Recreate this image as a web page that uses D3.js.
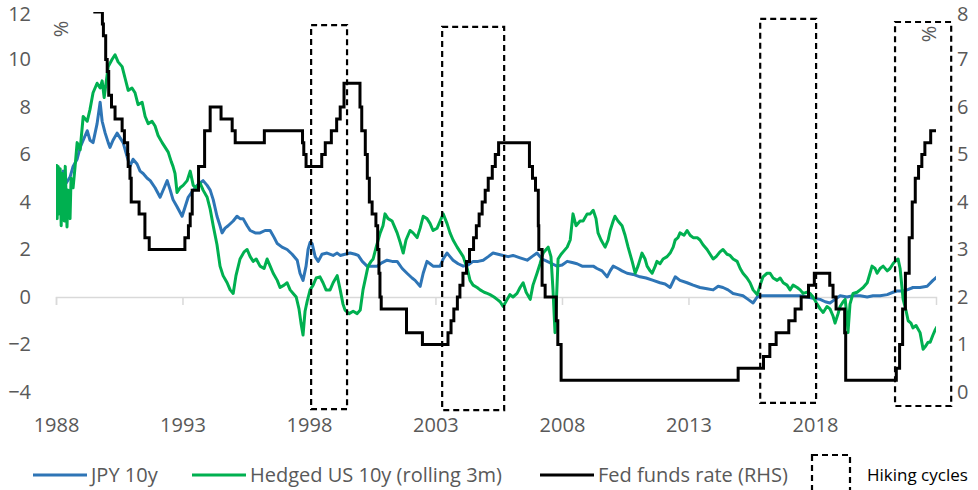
<!DOCTYPE html>
<html>
<head>
<meta charset="utf-8">
<script src="https://cdn.jsdelivr.net/npm/d3@7"></script>
<style>
  body { margin: 0; background: #fff; }
  text { font-family: "Open Sans", "Noto Sans", sans-serif; }
</style>
</head>
<body>
<script>
// JPY 10y yield, % (left axis) [decimal year, value]
var jpy10y = [
  [1989.00,5.2],[1989.16,4.9],[1989.28,5.3],[1989.40,4.8],[1989.55,5.05],[1989.67,5.5],[1989.83,5.8],[1989.95,6.3],
  [1990.07,6.6],[1990.23,7.0],[1990.34,6.6],[1990.46,6.5],[1990.62,7.3],[1990.74,8.2],[1990.82,7.4],[1990.94,6.9],
  [1991.06,6.5],[1991.13,6.3],[1991.25,6.6],[1991.41,6.9],[1991.53,6.7],[1991.65,6.5],[1991.81,5.9],[1991.92,5.5],
  [1992.04,5.8],[1992.20,5.6],[1992.32,5.3],[1992.44,5.2],[1992.60,5.0],[1992.72,4.9],[1992.91,4.6],[1993.11,4.2],
  [1993.27,4.6],[1993.39,4.9],[1993.51,4.5],[1993.62,4.1],[1993.78,3.8],[1993.98,3.4],[1994.10,3.8],[1994.22,4.2],
  [1994.42,4.5],[1994.57,4.7],[1994.69,4.8],[1994.81,4.9],[1994.97,4.7],[1995.09,4.5],[1995.21,4.1],[1995.36,3.4],
  [1995.48,3.0],[1995.56,2.7],[1995.68,2.9],[1995.80,3.0],[1996.00,3.2],[1996.15,3.4],[1996.27,3.3],[1996.39,3.3],
  [1996.55,3.0],[1996.67,2.8],[1996.87,2.7],[1997.06,2.7],[1997.26,2.8],[1997.46,2.8],[1997.62,2.5],[1997.74,2.25],
  [1997.93,2.1],[1998.13,2.0],[1998.33,1.8],[1998.53,1.55],[1998.64,1.0],[1998.76,0.7],[1998.88,1.3],[1998.96,2.0],
  [1999.04,2.3],[1999.12,2.25],[1999.24,1.7],[1999.36,1.5],[1999.51,1.8],[1999.71,1.85],[1999.95,1.75],[2000.11,1.85],
  [2000.23,1.75],[2000.42,1.8],[2000.62,1.85],[2000.82,1.8],[2000.94,1.75],[2001.10,1.5],[2001.29,1.3],[2001.49,1.3],
  [2001.69,1.3],[2001.89,1.45],[2002.08,1.55],[2002.28,1.5],[2002.48,1.5],[2002.68,1.2],[2002.87,1.0],[2003.07,0.8],
  [2003.19,0.7],[2003.39,0.45],[2003.51,1.0],[2003.66,1.5],[2003.78,1.4],[2003.90,1.3],[2004.06,1.3],[2004.18,1.3],
  [2004.30,1.6],[2004.45,1.85],[2004.57,1.7],[2004.69,1.55],[2004.89,1.4],[2005.09,1.3],[2005.28,1.35],[2005.48,1.5],
  [2005.68,1.5],[2005.88,1.55],[2006.08,1.7],[2006.27,1.85],[2006.47,1.8],[2006.67,1.75],[2006.87,1.7],[2007.06,1.75],
  [2007.34,1.65],[2007.62,1.55],[2007.81,1.7],[2008.01,1.85],[2008.21,1.6],[2008.41,1.5],[2008.60,1.4],[2008.80,1.3],
  [2009.00,1.35],[2009.20,1.5],[2009.40,1.45],[2009.59,1.4],[2009.79,1.3],[2009.99,1.3],[2010.23,1.3],[2010.38,1.2],
  [2010.58,1.1],[2010.78,0.85],[2010.90,1.1],[2011.02,1.3],[2011.21,1.2],[2011.37,1.1],[2011.57,1.0],[2011.81,0.95],
  [2012.08,0.85],[2012.32,0.8],[2012.60,0.7],[2012.87,0.6],[2013.07,0.55],[2013.27,0.4],[2013.47,0.85],[2013.66,0.7],
  [2013.94,0.6],[2014.18,0.5],[2014.45,0.4],[2014.73,0.35],[2014.97,0.3],[2015.17,0.45],[2015.36,0.4],[2015.56,0.3],
  [2015.76,0.15],[2015.96,0.1],[2016.15,0.05],[2016.35,-0.1],[2016.55,-0.25],[2016.71,0.0],[2016.83,0.05],[2017.10,0.05],
  [2017.34,0.05],[2017.62,0.05],[2017.89,0.05],[2018.13,0.05],[2018.41,0.05],[2018.68,0.0],[2018.92,-0.05],[2019.20,-0.1],
  [2019.40,-0.2],[2019.59,-0.25],[2019.79,-0.1],[2019.99,0.05],[2020.26,0.0],[2020.50,0.05],[2020.78,0.05],[2021.06,0.0],
  [2021.29,0.05],[2021.57,0.05],[2021.85,0.1],[2022.08,0.2],[2022.24,0.25],[2022.48,0.25],[2022.64,0.3],[2022.87,0.4],
  [2023.15,0.4],[2023.43,0.45],[2023.66,0.7],[2023.82,0.85]
];

// Hedged US 10y (rolling 3m), % (left axis)
var hedgedUs10y = [
  [1989.00,5.6],[1989.04,3.3],[1989.08,5.5],[1989.12,3.5],[1989.16,5.4],[1989.20,3.0],[1989.24,5.2],[1989.32,3.2],
  [1989.36,5.5],[1989.40,4.0],[1989.43,2.95],[1989.47,4.5],[1989.55,3.3],[1989.59,5.0],[1989.67,4.6],[1989.75,5.5],
  [1989.83,6.5],[1989.95,6.2],[1990.07,7.6],[1990.23,7.4],[1990.34,7.9],[1990.46,8.6],[1990.62,9.0],[1990.74,8.8],
  [1990.82,9.1],[1990.90,8.4],[1991.06,9.7],[1991.21,10.0],[1991.33,10.2],[1991.45,9.9],[1991.61,9.7],[1991.73,9.2],
  [1991.85,8.7],[1992.00,8.8],[1992.12,8.6],[1992.24,8.1],[1992.40,8.2],[1992.52,7.6],[1992.64,7.3],[1992.79,7.4],
  [1992.91,7.2],[1993.03,6.8],[1993.19,6.5],[1993.31,6.3],[1993.43,6.1],[1993.55,5.7],[1993.62,5.5],[1993.70,5.2],
  [1993.78,4.4],[1993.90,4.6],[1994.02,4.7],[1994.18,4.9],[1994.30,5.3],[1994.42,4.7],[1994.53,4.6],[1994.69,4.8],
  [1994.81,4.5],[1994.97,4.2],[1995.09,3.7],[1995.21,3.0],[1995.36,2.2],[1995.48,1.3],[1995.60,0.9],[1995.76,0.6],
  [1995.88,0.3],[1996.00,0.15],[1996.11,0.9],[1996.27,1.6],[1996.43,1.9],[1996.55,2.0],[1996.67,1.7],[1996.79,1.5],
  [1996.91,1.6],[1997.06,1.3],[1997.22,1.2],[1997.34,1.6],[1997.46,1.3],[1997.58,1.0],[1997.74,0.7],[1997.85,0.4],
  [1998.01,0.5],[1998.13,0.6],[1998.25,0.3],[1998.37,0.15],[1998.49,0.0],[1998.60,-0.5],[1998.68,-1.1],[1998.76,-1.6],
  [1998.84,-0.6],[1998.92,-0.2],[1999.04,0.3],[1999.16,0.5],[1999.28,0.8],[1999.43,0.85],[1999.55,0.6],[1999.67,0.3],
  [1999.83,0.3],[1999.95,0.6],[2000.11,0.9],[2000.23,0.3],[2000.34,-0.3],[2000.42,-0.55],[2000.58,-0.7],[2000.74,-0.6],
  [2000.90,-0.7],[2001.02,-0.55],[2001.13,0.3],[2001.25,0.9],[2001.33,1.3],[2001.45,1.5],[2001.53,1.6],[2001.65,2.1],
  [2001.81,2.7],[2001.92,3.0],[2002.00,3.5],[2002.12,3.3],[2002.28,3.2],[2002.40,2.9],[2002.48,2.7],[2002.60,2.3],
  [2002.72,1.85],[2002.83,2.4],[2002.99,2.8],[2003.11,2.7],[2003.27,2.5],[2003.39,2.9],[2003.51,3.4],[2003.66,3.3],
  [2003.78,3.1],[2003.90,2.8],[2004.06,2.9],[2004.18,3.2],[2004.30,3.5],[2004.45,3.1],[2004.57,2.7],[2004.69,2.4],
  [2004.85,2.1],[2004.97,1.9],[2005.09,1.7],[2005.25,1.2],[2005.36,0.7],[2005.48,0.5],[2005.64,0.4],[2005.76,0.3],
  [2005.92,0.2],[2006.04,0.15],[2006.15,0.1],[2006.31,0.0],[2006.43,-0.1],[2006.55,-0.2],[2006.67,-0.4],[2006.83,-0.1],
  [2006.94,0.1],[2007.06,0.0],[2007.22,0.15],[2007.34,0.4],[2007.46,0.6],[2007.58,0.2],[2007.74,-0.1],[2007.85,0.5],
  [2008.01,1.0],[2008.13,1.4],[2008.25,1.85],[2008.37,2.0],[2008.45,2.1],[2008.56,1.7],[2008.64,0.3],[2008.72,-1.5],
  [2008.80,0.5],[2008.84,1.6],[2008.96,1.8],[2009.04,1.9],[2009.20,2.1],[2009.32,2.4],[2009.43,3.5],[2009.55,3.0],
  [2009.71,3.2],[2009.83,3.2],[2009.99,3.5],[2010.11,3.5],[2010.23,3.65],[2010.34,3.3],[2010.42,2.7],[2010.54,2.4],
  [2010.70,2.1],[2010.82,2.4],[2010.90,2.8],[2011.02,3.2],[2011.09,3.4],[2011.21,3.2],[2011.37,3.0],[2011.49,2.6],
  [2011.61,2.1],[2011.77,1.5],[2011.89,1.0],[2012.00,1.3],[2012.16,1.85],[2012.28,1.6],[2012.36,1.3],[2012.48,1.1],
  [2012.56,1.0],[2012.68,1.3],[2012.75,1.5],[2012.87,1.4],[2012.99,1.6],[2013.15,1.7],[2013.27,1.85],[2013.39,2.1],
  [2013.47,2.4],[2013.58,2.5],[2013.66,2.7],[2013.82,2.6],[2013.94,2.8],[2014.06,2.6],[2014.18,2.5],[2014.34,2.5],
  [2014.45,2.4],[2014.57,2.2],[2014.73,2.0],[2014.85,1.8],[2014.97,1.6],[2015.09,1.7],[2015.24,1.9],[2015.36,2.0],
  [2015.52,1.8],[2015.64,1.75],[2015.76,1.6],[2015.92,1.5],[2016.04,1.2],[2016.15,1.0],[2016.31,0.8],[2016.43,0.6],
  [2016.55,0.3],[2016.71,0.1],[2016.83,0.5],[2016.94,0.85],[2017.10,1.0],[2017.22,1.0],[2017.34,0.8],[2017.50,0.7],
  [2017.62,0.8],[2017.74,0.6],[2017.89,0.5],[2018.01,0.3],[2018.13,0.5],[2018.29,0.4],[2018.41,0.3],[2018.53,0.15],
  [2018.68,0.2],[2018.80,0.15],[2018.92,0.0],[2019.08,-0.3],[2019.20,-0.5],[2019.32,-0.65],[2019.47,-0.4],[2019.59,-0.5],
  [2019.71,-0.8],[2019.79,-1.1],[2019.91,-0.7],[2019.99,-0.4],[2020.11,-0.2],[2020.19,-0.1],[2020.26,-0.8],[2020.30,-1.5],
  [2020.38,-0.3],[2020.50,0.15],[2020.66,0.2],[2020.78,0.3],[2020.90,0.4],[2021.06,0.6],[2021.17,1.0],[2021.25,1.3],
  [2021.37,1.2],[2021.45,1.0],[2021.57,1.2],[2021.69,1.3],[2021.85,1.1],[2021.96,1.2],[2022.08,1.4],[2022.16,1.5],
  [2022.28,1.6],[2022.36,1.2],[2022.48,-0.1],[2022.60,-0.6],[2022.68,-1.0],[2022.79,-1.1],[2022.87,-1.3],[2022.99,-1.2],
  [2023.15,-1.5],[2023.27,-2.2],[2023.35,-2.1],[2023.47,-1.9],[2023.55,-1.9],[2023.66,-1.6],[2023.74,-1.4],[2023.82,-1.25]
];

// Fed funds target (upper), % (right axis) - value holds from that date
var fedFunds = [
  [1989.00,9.0],[1989.15,9.75],[1989.45,9.5],[1989.55,9.25],[1989.80,9.0],[1989.85,8.75],[1989.96,8.5],[1990.53,8.0],
  [1990.83,7.75],[1990.87,7.5],[1990.96,7.0],[1991.02,6.75],[1991.08,6.25],[1991.19,6.0],[1991.33,5.75],[1991.61,5.5],
  [1991.70,5.25],[1991.83,5.0],[1991.85,4.75],[1991.92,4.5],[1991.97,4.0],[1992.28,3.75],[1992.51,3.25],[1992.68,3.0],
  [1994.09,3.25],[1994.23,3.5],[1994.30,3.75],[1994.38,4.25],[1994.63,4.75],[1994.87,5.5],[1995.09,6.0],[1995.52,5.75],
  [1995.96,5.5],[1996.08,5.25],[1997.23,5.5],[1998.74,5.25],[1998.79,5.0],[1998.88,4.75],[1999.50,5.0],[1999.64,5.25],
  [1999.88,5.5],[2000.09,5.75],[2000.23,6.0],[2000.38,6.5],[2001.01,6.0],[2001.08,5.5],[2001.22,5.0],[2001.30,4.5],
  [2001.38,4.0],[2001.49,3.75],[2001.64,3.5],[2001.71,3.0],[2001.76,2.5],[2001.80,2.0],[2001.85,1.75],[2002.85,1.25],
  [2003.48,1.0],[2004.49,1.25],[2004.61,1.5],[2004.72,1.75],[2004.86,2.0],[2004.96,2.25],[2005.08,2.5],[2005.22,2.75],
  [2005.34,3.0],[2005.50,3.25],[2005.61,3.5],[2005.72,3.75],[2005.84,4.0],[2005.96,4.25],[2006.08,4.5],[2006.24,4.75],
  [2006.36,5.0],[2006.49,5.25],[2007.71,4.75],[2007.83,4.5],[2007.95,4.25],[2008.06,3.5],[2008.08,3.0],[2008.21,2.25],
  [2008.33,2.0],[2008.77,1.5],[2008.83,1.0],[2008.96,0.25],[2015.96,0.5],[2016.96,0.75],[2017.21,1.0],[2017.46,1.25],
  [2017.96,1.5],[2018.21,1.75],[2018.45,2.0],[2018.74,2.25],[2018.97,2.5],[2019.58,2.25],[2019.71,2.0],[2019.83,1.75],
  [2020.17,1.25],[2020.21,0.25],[2022.21,0.5],[2022.34,1.0],[2022.46,1.75],[2022.57,2.5],[2022.72,3.25],[2022.84,4.0],
  [2022.96,4.5],[2023.09,4.75],[2023.22,5.0],[2023.34,5.25],[2023.57,5.5],[2023.82,5.5]
];

// hiking cycle boxes (start/end year, top/bottom on left axis)
var hikeStart = [1999.08, 2004.26, 2016.83, 2022.16];
var hikeEnd = [2000.50, 2006.71, 2019.04, 2024.38];
var hikeTop = [11.45, 11.37, 11.71, 11.58];
var hikeBottom = [-4.72, -4.76, -4.46, -4.59];

var leftTicks = [-4, -2, 0, 2, 4, 6, 8, 10, 12];
var rightTicks = [0, 1, 2, 3, 4, 5, 6, 7, 8];
var xTickYears = [1988, 1993, 1998, 2003, 2008, 2013, 2018];

var legendNames = ["JPY 10y", "Hedged US 10y (rolling 3m)", "Fed funds rate (RHS)"];
var colors = ["#2E75B6", "#00B050", "#000000"];

// decimal year -> Date
function dec(t) {
    var y = Math.floor(t);
    var a = Date.UTC(y, 0, 1), b = Date.UTC(y + 1, 0, 1);
    return new Date(a + (t - y) * (b - a));
}

var width = 978, height = 490;
var plot = { left: 56, right: 936, top: 12, bottom: 392 };

var svg = d3.select("body").append("svg")
    .attr("width", width)
    .attr("height", height);

// scales
var x = d3.scaleUtc()
    .domain([new Date(Date.UTC(1988, 11, 30)), dec(2023.78)])
    .range([plot.left, plot.right]);

var yL = d3.scaleLinear().domain([-4, 12]).range([plot.bottom, plot.top]);
var yR = d3.scaleLinear().domain([0, 8]).range([plot.bottom, plot.top]);

var xTicks = xTickYears.map(function (y) { return new Date(Date.UTC(y, 11, 30)); });

// clip for the lines
svg.append("clipPath").attr("id", "plotclip")
  .append("rect")
    .attr("x", plot.left).attr("y", plot.top)
    .attr("width", plot.right - plot.left)
    .attr("height", plot.bottom - plot.top);

// zero axis line with ticks
var xAxis = svg.append("g")
    .attr("transform", "translate(0," + yL(0) + ")")
    .call(d3.axisBottom(x).tickValues(xTicks).tickSize(8).tickFormat(""));
xAxis.select(".domain").attr("stroke", "#d9d9d9").attr("stroke-width", 1.5);
xAxis.selectAll(".tick line").attr("stroke", "#d9d9d9").attr("stroke-width", 1.5);

// x labels (low position)
var xLab = svg.append("g")
    .attr("transform", "translate(0,418)")
    .call(d3.axisBottom(x).tickValues(xTicks).tickSize(0).tickPadding(0)
        .tickFormat(d3.utcFormat("%Y")));
xLab.select(".domain").remove();
xLab.selectAll("text")
    .attr("fill", "#595959")
    .style("font-size", "20px")
    .attr("dy", "0.71em");

// left axis
var lAxis = svg.append("g")
    .attr("transform", "translate(31,0)")
    .call(d3.axisLeft(yL).tickValues(leftTicks).tickSize(0).tickPadding(0));
lAxis.select(".domain").remove();
lAxis.selectAll("text").attr("fill", "#595959").style("font-size", "20px");

// right axis
var rAxis = svg.append("g")
    .attr("transform", "translate(957,0)")
    .call(d3.axisRight(yR).tickValues(rightTicks).tickSize(0).tickPadding(0));
rAxis.select(".domain").remove();
rAxis.selectAll("text").attr("fill", "#595959").style("font-size", "20px");

// keep the top labels inside the picture
lAxis.selectAll(".tick").filter(function (d) { return d === 12; }).select("text").attr("dy", "0.44em");
rAxis.selectAll(".tick").filter(function (d) { return d === 8; }).select("text").attr("dy", "0.44em");

// % units
svg.append("text")
    .attr("transform", "translate(68,29) rotate(-90)")
    .attr("text-anchor", "middle")
    .attr("fill", "#595959")
    .style("font-size", "20px")
    .text("%");
svg.append("text")
    .attr("transform", "translate(936,34) rotate(-90)")
    .attr("text-anchor", "middle")
    .attr("fill", "#595959")
    .style("font-size", "20px")
    .text("%");

// lines
var lineL = d3.line()
    .x(function (d) { return x(dec(d[0])); })
    .y(function (d) { return yL(d[1]); });

var lineR = d3.line()
    .curve(d3.curveStepAfter)
    .x(function (d) { return x(dec(d[0])); })
    .y(function (d) { return yR(d[1]); });

var lines = svg.append("g").attr("clip-path", "url(#plotclip)");

lines.append("path")
    .datum(jpy10y)
    .attr("fill", "none")
    .attr("stroke", colors[0])
    .attr("stroke-width", 3)
    .attr("stroke-linejoin", "round")
    .attr("d", lineL);

lines.append("path")
    .datum(hedgedUs10y)
    .attr("fill", "none")
    .attr("stroke", colors[1])
    .attr("stroke-width", 3)
    .attr("stroke-linejoin", "round")
    .attr("d", lineL);

lines.append("path")
    .datum(fedFunds)
    .attr("fill", "none")
    .attr("stroke", colors[2])
    .attr("stroke-width", 3)
    .attr("d", lineR);

// hiking cycle boxes
svg.append("g").selectAll("rect")
    .data(hikeStart)
  .enter().append("rect")
    .attr("x", function (d) { return x(dec(d)); })
    .attr("y", function (d, i) { return yL(hikeTop[i]); })
    .attr("width", function (d, i) { return x(dec(hikeEnd[i])) - x(dec(d)); })
    .attr("height", function (d, i) { return yL(hikeBottom[i]) - yL(hikeTop[i]); })
    .attr("fill", "none")
    .attr("stroke", "#000")
    .attr("stroke-width", 2.2)
    .attr("stroke-dasharray", "6,4");

// legend
var legX = [33, 192, 540];
var legend = svg.append("g");
legendNames.forEach(function (name, i) {
    legend.append("line")
        .attr("x1", legX[i]).attr("x2", legX[i] + 54)
        .attr("y1", 475).attr("y2", 475)
        .attr("stroke", colors[i])
        .attr("stroke-width", 3);
    legend.append("text")
        .attr("x", legX[i] + 58)
        .attr("y", 475)
        .attr("dy", "0.35em")
        .attr("fill", "#595959")
        .style("font-size", "20px")
        .text(name);
});
legend.append("rect")
    .attr("x", 812).attr("y", 455)
    .attr("width", 38).attr("height", 45)
    .attr("fill", "none")
    .attr("stroke", "#000")
    .attr("stroke-width", 2.2)
    .attr("stroke-dasharray", "6,4");
legend.append("text")
    .attr("x", 867)
    .attr("y", 475)
    .attr("dy", "0.35em")
    .attr("fill", "#000")
    .style("font-size", "17px")
    .text("Hiking cycles");
</script>
</body>
</html>
